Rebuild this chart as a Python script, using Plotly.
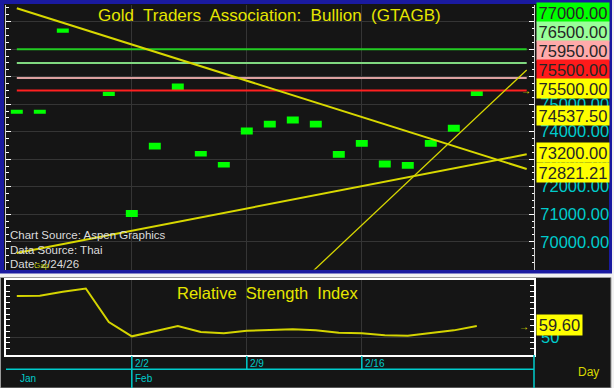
import plotly.graph_objects as go

# ---------------- data ----------------
dates = ['1/26', '1/27', '1/28', '1/29', '1/30', '2/2', '2/3', '2/4', '2/5', '2/6',
         '2/9', '2/10', '2/11', '2/12', '2/13', '2/16', '2/17', '2/18', '2/19', '2/20', '2/23']
day_high = [74800, 74800, 77750, 79400, 75450, 71150, 73600, 75750, 73300, 72900,
            74150, 74400, 74550, 74400, 73300, 73700, 72950, 72900, 73700, 74250, 75500]
day_low = [74650, 74650, 77600, 79150, 75300, 70900, 73350, 75500, 73100, 72700,
           73900, 74150, 74300, 74150, 73050, 73450, 72700, 72650, 73450, 74000, 75300]
rsi = [85.8, 86.0, 89.5, 92.3, 63.1, 50.6, 55.0, 59.6, 54.4, 53.2, 55.5,
       55.8, 56.7, 55.8, 53.8, 53.2, 51.5, 51.1, 53.2, 55.8, 59.6]

level_values = [77000, 76500, 75950, 75500]
level_labels = ['77000.00', '76500.00', '75950.00', '75500.00']
yellow_labels = ['75500.00', '74537.50', '73200.00', '72821.21']
rsi_label = '59.60'
rsi_tick = [50]
price_ticks = [70000, 71000, 72000, 73000, 74000, 75000, 76000, 77000, 78000]
week_ticks = ['2/2', '2/9', '2/16']
month_labels = ['Jan', 'Feb']
month_starts = ['1/26', '2/2']

down_x = [0, 22.17]
down_y = [78490, 72644]
up_x = [0, 22.17]
up_y = [69590, 73179]
steep_x = [12.9, 22.17]
steep_y = [68950, 76244]

title = 'Gold\u00a0 Traders\u00a0 Association:\u00a0 Bullion\u00a0 (GTAGB)'
rsi_title = 'Relative\u00a0 Strength\u00a0 Index'
notes = ['Chart Source: Aspen Graphics', 'Data Source: Thai', 'Date: 2/24/26']

# ---------------- layout helpers ----------------
W, H = 614, 388
def px(x):
    return x / W
def py(y):
    return 1 - y / H

NARROW = 'Liberation Sans Narrow, Arial Narrow, Liberation Sans, Arial, sans-serif'
DARK = '#151515'
YEL = '#e6e600'
CYAN = '#00cccc'
level_line_colors = ['#22cc22', '#80d880', '#dca0a0', '#ff2020']
level_box_colors = ['#00ff00', '#99ff99', '#ffaaaa', '#ff1a1a']

idx = list(range(len(dates)))
XR = [-0.47, 22.487]
XD = [px(6), px(534)]
def xpaper(i):
    return XD[0] + (i - XR[0]) / (XR[1] - XR[0]) * (XD[1] - XD[0])

fig = go.Figure()

# price bars
fig.add_trace(go.Bar(x=idx, base=day_low, y=[h - l for h, l in zip(day_high, day_low)],
                     width=0.52, marker=dict(color='#00ff00', line=dict(width=0)),
                     xaxis='x', yaxis='y', hoverinfo='skip'))
# horizontal level lines
for v, c in zip(level_values, level_line_colors):
    fig.add_trace(go.Scatter(x=[0, 22.17], y=[v, v], mode='lines',
                             line=dict(color=c, width=2), xaxis='x', yaxis='y', hoverinfo='skip'))
# trend lines
for tx, ty, w in [(down_x, down_y, 2), (up_x, up_y, 2), (steep_x, steep_y, 1.3)]:
    fig.add_trace(go.Scatter(x=tx, y=ty, mode='lines', line=dict(color='#d8d800', width=w),
                             xaxis='x', yaxis='y', hoverinfo='skip'))
# RSI
fig.add_trace(go.Scatter(x=idx, y=rsi, mode='lines', line=dict(color='#d4d400', width=2),
                         xaxis='x2', yaxis='y2', hoverinfo='skip'))

week_idx = [dates.index(d) for d in week_ticks]

shapes = [
    dict(type='rect', xref='paper', yref='paper', x0=px(0), x1=px(612), y0=py(273.5), y1=py(0),
         fillcolor='#1a1aa0', line=dict(width=0), layer='below'),
    dict(type='rect', xref='paper', yref='paper', x0=px(4), x1=px(609), y0=py(270), y1=py(4),
         fillcolor=DARK, line=dict(width=0), layer='below'),
    dict(type='rect', xref='paper', yref='paper', x0=px(0.5), x1=px(611), y0=py(388), y1=py(277.5),
         fillcolor=DARK, line=dict(width=1, color='#9a9a9a'), layer='below'),
    dict(type='line', xref='paper', yref='paper', x0=px(6), x1=px(534), y0=py(369.3), y1=py(369.3),
         line=dict(color=CYAN, width=1.5)),
    dict(type='line', xref='paper', yref='paper', x0=px(534), x1=px(534), y0=py(355), y1=py(388),
         line=dict(color=CYAN, width=1.5)),
]
for d in week_ticks:
    i = dates.index(d)
    bottom = 388 if d in month_starts else 369.3
    shapes.append(dict(type='line', xref='paper', yref='paper', x0=xpaper(i), x1=xpaper(i),
                       y0=py(356), y1=py(bottom), line=dict(color=CYAN, width=1.5)))

ann = []
ann.append(dict(text=title, x=px(269), y=py(15.5), xref='paper', yref='paper', showarrow=False,
                font=dict(family=NARROW, size=17, color=YEL), xanchor='center', yanchor='middle'))
ann.append(dict(text=rsi_title, x=px(267), y=py(293), xref='paper', yref='paper', showarrow=False,
                font=dict(family=NARROW, size=16.5, color=YEL), xanchor='center', yanchor='middle'))
for t, yy in zip(notes, [235, 250, 264]):
    ann.append(dict(text=t, x=px(7.5), y=py(yy), xref='paper', yref='paper', showarrow=False,
                    font=dict(family='Liberation Sans, Arial, sans-serif', size=11.5, color='#dcdcdc'),
                    xanchor='left', yanchor='middle'))
ann.append(dict(text='Gap', x=px(32), y=py(265), xref='paper', yref='paper', showarrow=False,
                font=dict(family=NARROW, size=8, color='#b8c400'), xanchor='left', yanchor='middle'))
box_centers = [12.5, 31.3, 50.5, 69.7]
for t, c, yy in zip(level_labels, level_box_colors, box_centers):
    ann.append(dict(text=t, x=px(536), y=py(yy), xref='paper', yref='paper', showarrow=False,
                    bgcolor=c, width=72, height=19, borderpad=0, align='center',
                    font=dict(family=NARROW, size=16.5, color='#262626'), xanchor='left', yanchor='middle'))
ybox_centers = [88.3, 115, 152.9, 172.1]
for t, yy in zip(yellow_labels, ybox_centers):
    ann.append(dict(text=t, x=px(536), y=py(yy), xref='paper', yref='paper', showarrow=False,
                    bgcolor='#ffff00', width=72, height=19.2, borderpad=0, align='center',
                    font=dict(family=NARROW, size=16.5, color='#262626'), xanchor='left', yanchor='middle'))
ann.append(dict(text=rsi_label, x=px(536), y=py(325.3), xref='paper', yref='paper', showarrow=False,
                bgcolor='#ffff00', width=45, height=20, borderpad=0, align='center',
                font=dict(family=NARROW, size=16.5, color='#262626'), xanchor='left', yanchor='middle'))
ann.append(dict(text='\u2192', x=22.12, y=day_high[-1], xref='x', yref='y', showarrow=False,
                font=dict(size=10, color=YEL), xanchor='center', yanchor='middle'))
ann.append(dict(text='\u2192', x=22.05, y=rsi[-1], xref='x2', yref='y2', showarrow=False,
                font=dict(size=10, color=YEL), xanchor='center', yanchor='middle'))
for d in week_ticks:
    ann.append(dict(text=d, x=xpaper(dates.index(d)) + px(1.5), y=py(363), xref='paper', yref='paper',
                    showarrow=False, font=dict(family=NARROW, size=10, color=CYAN),
                    xanchor='left', yanchor='middle'))
for m, d in zip(month_labels, month_starts):
    ann.append(dict(text=m, x=xpaper(dates.index(d)) + px(1.5), y=py(378.5), xref='paper', yref='paper',
                    showarrow=False, font=dict(family=NARROW, size=10, color=CYAN),
                    xanchor='left', yanchor='middle'))
ann.append(dict(text='Day', x=px(588), y=py(371.5), xref='paper', yref='paper', showarrow=False,
                font=dict(family=NARROW, size=12, color='#d8d800'), xanchor='center', yanchor='middle'))

fig.update_layout(
    width=W, height=H, margin=dict(l=0, r=0, t=0, b=0),
    paper_bgcolor='#f2f2f2', plot_bgcolor=DARK, showlegend=False,
    shapes=shapes, annotations=ann, hovermode=False,
    xaxis=dict(domain=XD, range=XR, tickvals=week_idx, showticklabels=False, ticks='',
               showgrid=True, gridcolor='#353535', gridwidth=1, zeroline=False, showline=False,
               anchor='y'),
    yaxis=dict(domain=[py(269.5), py(5)], range=[68990, 78607], side='right',
               tickvals=price_ticks, tickformat='.2f',
               tickfont=dict(family=NARROW, size=16.5, color=CYAN),
               ticks='inside', ticklen=5, tickcolor='white', mirror='ticks',
               showline=True, linecolor='#cfcfcf', linewidth=1,
               showgrid=True, gridcolor='#353535', zeroline=False, anchor='x', ticklabelstandoff=2,
               minor=dict(dtick=250, ticks='inside', ticklen=2.5, tickcolor='white', showgrid=False)),
    xaxis2=dict(domain=XD, range=XR, tickvals=week_idx, showticklabels=False, ticks='',
                showgrid=True, gridcolor='#353535', zeroline=False,
                showline=True, linecolor='white', linewidth=1.5, mirror=True, anchor='y2'),
    yaxis2=dict(domain=[py(355), py(280)], range=[34.3, 99.74], side='right',
                tickvals=rsi_tick, tickfont=dict(family=NARROW, size=16.5, color=CYAN),
                ticks='inside', ticklen=4, tickcolor='white', mirror='ticks',
                showline=True, linecolor='white', linewidth=1.5,
                showgrid=True, gridcolor='#353535', zeroline=False, anchor='x2', ticklabelstandoff=2,
                minor=dict(dtick=5, ticks='inside', ticklen=4, tickcolor='white', showgrid=False)),
)

fig.write_html('out.html', config=dict(displayModeBar=False),
               post_script="document.body.style.margin='0px';document.body.style.overflow='hidden';")
